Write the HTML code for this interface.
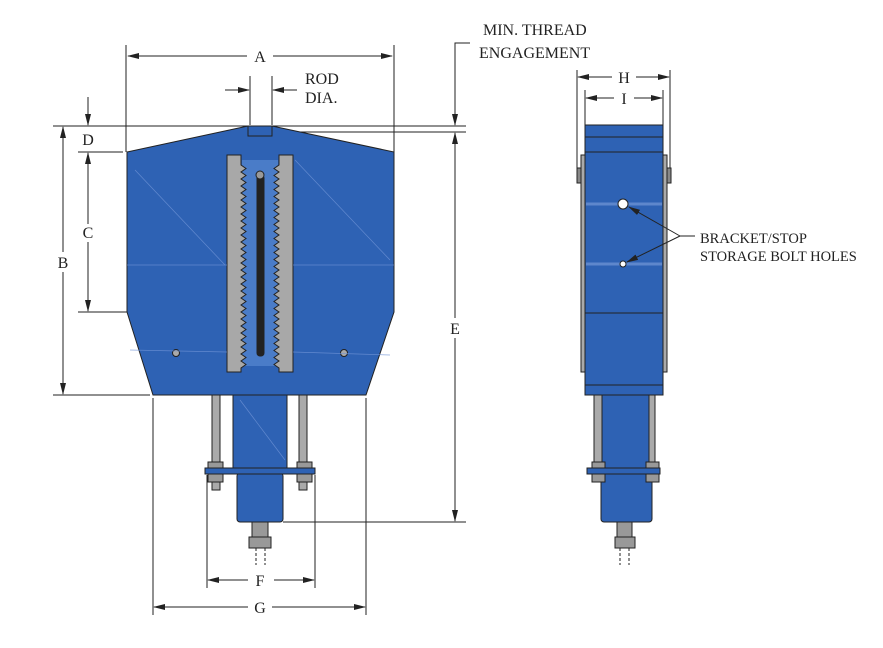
<!DOCTYPE html>
<html><head><meta charset="utf-8"><style>html,body{margin:0;padding:0;background:#fff}svg{display:block}</style></head><body>
<svg width="883" height="648" viewBox="0 0 883 648" xmlns="http://www.w3.org/2000/svg" font-family="Liberation Serif, serif" font-size="16">
<defs>
<marker id="ar" markerWidth="12" markerHeight="8" refX="11" refY="4" orient="auto" markerUnits="userSpaceOnUse"><path d="M0,1 L12,4 L0,7 Z" fill="#222"/></marker>
</defs>
<g stroke="#222" stroke-width="1" fill="none">
<line x1="126" y1="45" x2="126" y2="152"/><line x1="394" y1="45" x2="394" y2="152"/>
<line x1="247" y1="56" x2="128" y2="56" marker-end="url(#ar)"/><line x1="273" y1="56" x2="392" y2="56" marker-end="url(#ar)"/>
<line x1="250" y1="76" x2="250" y2="125"/><line x1="272" y1="76" x2="272" y2="125"/>
<line x1="225" y1="90" x2="249" y2="90" marker-end="url(#ar)"/><line x1="297" y1="90" x2="273" y2="90" marker-end="url(#ar)"/>
<line x1="53" y1="126" x2="466" y2="126"/><line x1="272" y1="132" x2="466" y2="132"/>
<line x1="78" y1="152" x2="123" y2="152"/><line x1="78" y1="312" x2="127" y2="312"/>
<line x1="53" y1="395" x2="150" y2="395"/><line x1="283" y1="522" x2="466" y2="522"/>
<line x1="88" y1="97" x2="88" y2="125" marker-end="url(#ar)"/>
<line x1="88" y1="224" x2="88" y2="153" marker-end="url(#ar)"/><line x1="88" y1="242" x2="88" y2="311" marker-end="url(#ar)"/>
<line x1="63" y1="252" x2="63" y2="127" marker-end="url(#ar)"/><line x1="63" y1="272" x2="63" y2="394" marker-end="url(#ar)"/>
<line x1="455" y1="318" x2="455" y2="133" marker-end="url(#ar)"/><line x1="455" y1="338" x2="455" y2="521" marker-end="url(#ar)"/>
<polyline points="470,43 455,43 455,125" marker-end="url(#ar)"/>
<line x1="207" y1="475" x2="207" y2="588"/><line x1="315" y1="475" x2="315" y2="588"/>
<line x1="248" y1="580" x2="208" y2="580" marker-end="url(#ar)"/><line x1="274" y1="580" x2="314" y2="580" marker-end="url(#ar)"/>
<line x1="153" y1="398" x2="153" y2="615"/><line x1="366" y1="398" x2="366" y2="615"/>
<line x1="248" y1="607" x2="154" y2="607" marker-end="url(#ar)"/><line x1="272" y1="607" x2="365" y2="607" marker-end="url(#ar)"/>
<line x1="577" y1="70" x2="577" y2="170"/><line x1="670" y1="70" x2="670" y2="170"/>
<line x1="585" y1="90" x2="585" y2="125"/><line x1="663" y1="90" x2="663" y2="125"/>
<line x1="612" y1="77" x2="578" y2="77" marker-end="url(#ar)"/><line x1="636" y1="77" x2="669" y2="77" marker-end="url(#ar)"/>
<line x1="614" y1="98" x2="586" y2="98" marker-end="url(#ar)"/><line x1="634" y1="98" x2="662" y2="98" marker-end="url(#ar)"/>
</g>
<g fill="#222">
<text x="260" y="62" text-anchor="middle">A</text>
<text x="305" y="84">ROD</text><text x="305" y="103">DIA.</text>
<text x="483" y="35">MIN. THREAD</text><text x="479" y="58">ENGAGEMENT</text>
<text x="88" y="145" text-anchor="middle">D</text>
<text x="88" y="238" text-anchor="middle">C</text>
<text x="63" y="268" text-anchor="middle">B</text>
<text x="455" y="334" text-anchor="middle">E</text>
<text x="260" y="586" text-anchor="middle">F</text>
<text x="260" y="613" text-anchor="middle">G</text>
<text x="624" y="83" text-anchor="middle">H</text>
<text x="624" y="104" text-anchor="middle">I</text>
<text x="700" y="243" font-size="14.5">BRACKET/STOP</text>
<text x="700" y="261" font-size="14.5">STORAGE BOLT HOLES</text>
</g>
<!-- FRONT VIEW -->
<g stroke="#222" stroke-width="1">
<rect x="212" y="395" width="8" height="95" fill="#aaa"/><rect x="299" y="395" width="8" height="95" fill="#aaa"/>
<rect x="233" y="395" width="54" height="75" fill="#2e62b4"/>
<rect x="237" y="473" width="46" height="49" rx="3" fill="#2e62b4"/>
<rect x="205" y="468" width="110" height="6" fill="#2e62b4"/>
<rect x="208" y="462" width="15" height="6" fill="#999"/><rect x="297" y="462" width="15" height="6" fill="#999"/>
<rect x="208" y="474" width="15" height="8" fill="#999"/><rect x="297" y="474" width="15" height="8" fill="#999"/>
<rect x="252" y="522" width="16" height="15" fill="#999"/><rect x="249" y="537" width="22" height="11" fill="#999"/>
<path d="M256,548 V565 M265,548 V565" stroke-dasharray="3,2"/>
<path d="M248,126 L272,126 L394,152 L394,312 L366,395 L153,395 L127,312 L127,152 Z" fill="#2e62b4"/>
<rect x="248" y="126" width="24" height="10" fill="#2e62b4"/>
<rect x="242" y="160" width="36" height="206" fill="#4a7cc8" stroke="none"/>
<path d="M227,155 H241 V165 l5,3.5 l-5,3.5 l5,3.5 l-5,3.5 l5,3.5 l-5,3.5 l5,3.5 l-5,3.5 l5,3.5 l-5,3.5 l5,3.5 l-5,3.5 l5,3.5 l-5,3.5 l5,3.5 l-5,3.5 l5,3.5 l-5,3.5 l5,3.5 l-5,3.5 l5,3.5 l-5,3.5 l5,3.5 l-5,3.5 l5,3.5 l-5,3.5 l5,3.5 l-5,3.5 l5,3.5 l-5,3.5 l5,3.5 l-5,3.5 l5,3.5 l-5,3.5 l5,3.5 l-5,3.5 l5,3.5 l-5,3.5 l5,3.5 l-5,3.5 l5,3.5 l-5,3.5 l5,3.5 l-5,3.5 l5,3.5 l-5,3.5 l5,3.5 l-5,3.5 l5,3.5 l-5,3.5 l5,3.5 l-5,3.5 l5,3.5 l-5,3.5 l5,3.5 l-5,3.5 l5,3.5 l-5,3.5 V372 H227 Z" fill="#a8a8a8"/>
<path d="M293,155 H279 V165 l-5,3.5 l5,3.5 l-5,3.5 l5,3.5 l-5,3.5 l5,3.5 l-5,3.5 l5,3.5 l-5,3.5 l5,3.5 l-5,3.5 l5,3.5 l-5,3.5 l5,3.5 l-5,3.5 l5,3.5 l-5,3.5 l5,3.5 l-5,3.5 l5,3.5 l-5,3.5 l5,3.5 l-5,3.5 l5,3.5 l-5,3.5 l5,3.5 l-5,3.5 l5,3.5 l-5,3.5 l5,3.5 l-5,3.5 l5,3.5 l-5,3.5 l5,3.5 l-5,3.5 l5,3.5 l-5,3.5 l5,3.5 l-5,3.5 l5,3.5 l-5,3.5 l5,3.5 l-5,3.5 l5,3.5 l-5,3.5 l5,3.5 l-5,3.5 l5,3.5 l-5,3.5 l5,3.5 l-5,3.5 l5,3.5 l-5,3.5 l5,3.5 l-5,3.5 l5,3.5 l-5,3.5 l5,3.5 V372 H293 Z" fill="#a8a8a8"/>
<rect x="257" y="175" width="7" height="181" rx="3" fill="#222"/>
<circle cx="260" cy="175" r="4" fill="#999"/>
<circle cx="176" cy="353" r="3.5" fill="#aaa"/><circle cx="344" cy="353" r="3.5" fill="#aaa"/>
</g>
<g stroke="#6f93d6" stroke-width="0.7" fill="none" opacity="0.8">
<line x1="127" y1="265" x2="227" y2="265"/><line x1="293" y1="265" x2="394" y2="265"/>
<line x1="135" y1="170" x2="225" y2="265"/><line x1="295" y1="160" x2="390" y2="260"/>
<line x1="130" y1="350" x2="227" y2="352"/><line x1="293" y1="352" x2="390" y2="355"/>
<line x1="240" y1="400" x2="285" y2="460"/>
</g>
<!-- SIDE VIEW -->
<g stroke="#222" stroke-width="1">
<rect x="594" y="395" width="8" height="85" fill="#aaa"/><rect x="648" y="395" width="7" height="85" fill="#aaa"/>
<rect x="602" y="395" width="47" height="75" fill="#2e62b4"/>
<rect x="601" y="473" width="51" height="49" rx="3" fill="#2e62b4"/>
<rect x="587" y="468" width="73" height="6" fill="#2e62b4"/>
<rect x="592" y="462" width="13" height="6" fill="#999"/><rect x="646" y="462" width="13" height="6" fill="#999"/>
<rect x="592" y="474" width="13" height="8" fill="#999"/><rect x="646" y="474" width="13" height="8" fill="#999"/>
<rect x="617" y="522" width="15" height="15" fill="#999"/><rect x="615" y="537" width="20" height="11" fill="#999"/>
<path d="M620,548 V565 M629,548 V565" stroke-dasharray="3,2"/>
<rect x="581" y="155" width="4" height="217" fill="#aaa"/><rect x="663" y="155" width="4" height="217" fill="#aaa"/>
<rect x="577" y="168" width="4" height="15" fill="#888"/><rect x="667" y="168" width="4" height="15" fill="#888"/>
<rect x="585" y="125" width="78" height="270" fill="#2e62b4"/>
<line x1="585" y1="137" x2="663" y2="137"/><line x1="585" y1="152" x2="663" y2="152"/>
<line x1="585" y1="313" x2="663" y2="313"/><line x1="585" y1="385" x2="663" y2="385"/>
</g>
<g stroke="#7fa0dc" stroke-width="3" opacity="0.6">
<line x1="586" y1="204" x2="662" y2="204"/><line x1="586" y1="264" x2="662" y2="264"/>
</g>
<g stroke="#222" stroke-width="1">
<circle cx="623" cy="204" r="5" fill="#fff"/><circle cx="623" cy="264" r="3" fill="#fff"/>
</g>
<g stroke="#222" stroke-width="1" fill="none">
<line x1="695" y1="236" x2="680" y2="236"/>
<line x1="680" y1="236" x2="629" y2="207" marker-end="url(#ar)"/><line x1="680" y1="236" x2="627" y2="262" marker-end="url(#ar)"/>
</g>
</svg>
</body></html>
